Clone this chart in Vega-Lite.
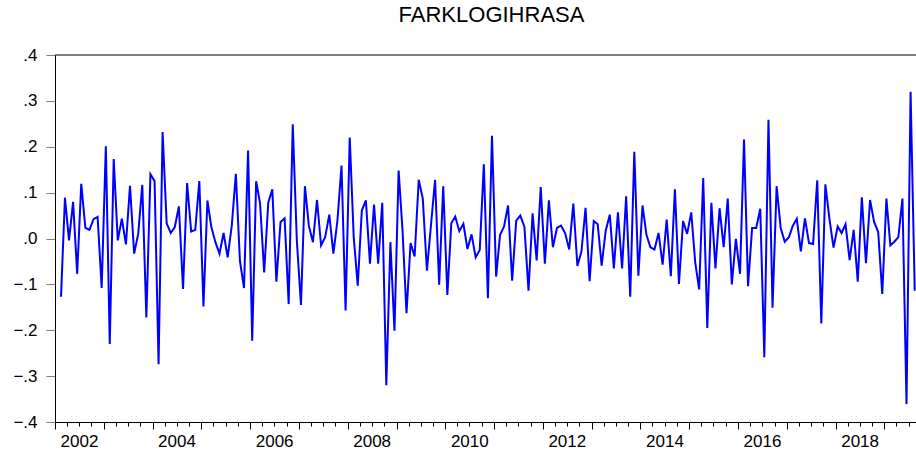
{
 "$schema": "https://vega.github.io/schema/vega-lite/v6.json",
 "width": 861,
 "height": 367,
 "autosize": {"type": "none"},
 "padding": {"left": 55, "top": 55, "right": 0, "bottom": 31},
 "background": "white",
 "config": {"view": {"stroke": null}, "font": "Liberation Sans"},
 "title": {"text": "FARKLOGIHRASA", "fontSize": 22, "fontWeight": "normal", "font": "Liberation Sans", "color": "black", "anchor": "middle", "baseline": "alphabetic", "offset": 2, "dx": 6},
 "layer": [
  {
   "data": {"values": [
{"d":"2002-02-01","v":-0.127},{"d":"2002-03-01","v":0.089},{"d":"2002-04-01","v":-0.004},{"d":"2002-05-01","v":0.080},{"d":"2002-06-01","v":-0.077},{"d":"2002-07-01","v":0.119},{"d":"2002-08-01","v":0.023},{"d":"2002-09-01","v":0.019},{"d":"2002-10-01","v":0.042},{"d":"2002-11-01","v":0.047},{"d":"2002-12-01","v":-0.108},
{"d":"2003-01-01","v":0.201},{"d":"2003-02-01","v":-0.230},{"d":"2003-03-01","v":0.173},{"d":"2003-04-01","v":-0.004},{"d":"2003-05-01","v":0.043},{"d":"2003-06-01","v":-0.013},{"d":"2003-07-01","v":0.115},{"d":"2003-08-01","v":-0.033},{"d":"2003-09-01","v":0.010},{"d":"2003-10-01","v":0.117},{"d":"2003-11-01","v":-0.172},{"d":"2003-12-01","v":0.140},
{"d":"2004-01-01","v":0.125},{"d":"2004-02-01","v":-0.274},{"d":"2004-03-01","v":0.232},{"d":"2004-04-01","v":0.033},{"d":"2004-05-01","v":0.012},{"d":"2004-06-01","v":0.025},{"d":"2004-07-01","v":0.070},{"d":"2004-08-01","v":-0.110},{"d":"2004-09-01","v":0.121},{"d":"2004-10-01","v":0.015},{"d":"2004-11-01","v":0.019},{"d":"2004-12-01","v":0.125},
{"d":"2005-01-01","v":-0.148},{"d":"2005-02-01","v":0.083},{"d":"2005-03-01","v":0.025},{"d":"2005-04-01","v":-0.008},{"d":"2005-05-01","v":-0.033},{"d":"2005-06-01","v":0.012},{"d":"2005-07-01","v":-0.041},{"d":"2005-08-01","v":0.028},{"d":"2005-09-01","v":0.141},{"d":"2005-10-01","v":-0.049},{"d":"2005-11-01","v":-0.108},{"d":"2005-12-01","v":0.192},
{"d":"2006-01-01","v":-0.223},{"d":"2006-02-01","v":0.125},{"d":"2006-03-01","v":0.076},{"d":"2006-04-01","v":-0.074},{"d":"2006-05-01","v":0.078},{"d":"2006-06-01","v":0.107},{"d":"2006-07-01","v":-0.094},{"d":"2006-08-01","v":0.036},{"d":"2006-09-01","v":0.044},{"d":"2006-10-01","v":-0.143},{"d":"2006-11-01","v":0.249},{"d":"2006-12-01","v":-0.004},
{"d":"2007-01-01","v":-0.145},{"d":"2007-02-01","v":0.114},{"d":"2007-03-01","v":0.028},{"d":"2007-04-01","v":-0.008},{"d":"2007-05-01","v":0.084},{"d":"2007-06-01","v":-0.015},{"d":"2007-07-01","v":0.003},{"d":"2007-08-01","v":0.052},{"d":"2007-09-01","v":-0.033},{"d":"2007-10-01","v":0.039},{"d":"2007-11-01","v":0.159},{"d":"2007-12-01","v":-0.157},
{"d":"2008-01-01","v":0.220},{"d":"2008-02-01","v":0.003},{"d":"2008-03-01","v":-0.103},{"d":"2008-04-01","v":0.061},{"d":"2008-05-01","v":0.083},{"d":"2008-06-01","v":-0.055},{"d":"2008-07-01","v":0.074},{"d":"2008-08-01","v":-0.055},{"d":"2008-09-01","v":0.078},{"d":"2008-10-01","v":-0.320},{"d":"2008-11-01","v":-0.008},{"d":"2008-12-01","v":-0.201},
{"d":"2009-01-01","v":0.148},{"d":"2009-02-01","v":0.017},{"d":"2009-03-01","v":-0.163},{"d":"2009-04-01","v":-0.010},{"d":"2009-05-01","v":-0.039},{"d":"2009-06-01","v":0.128},{"d":"2009-07-01","v":0.087},{"d":"2009-08-01","v":-0.070},{"d":"2009-09-01","v":0.030},{"d":"2009-10-01","v":0.128},{"d":"2009-11-01","v":-0.101},{"d":"2009-12-01","v":0.114},
{"d":"2010-01-01","v":-0.123},{"d":"2010-02-01","v":0.033},{"d":"2010-03-01","v":0.048},{"d":"2010-04-01","v":0.016},{"d":"2010-05-01","v":0.032},{"d":"2010-06-01","v":-0.023},{"d":"2010-07-01","v":0.009},{"d":"2010-08-01","v":-0.041},{"d":"2010-09-01","v":-0.025},{"d":"2010-10-01","v":0.162},{"d":"2010-11-01","v":-0.130},{"d":"2010-12-01","v":0.224},
{"d":"2011-01-01","v":-0.083},{"d":"2011-02-01","v":0.008},{"d":"2011-03-01","v":0.026},{"d":"2011-04-01","v":0.072},{"d":"2011-05-01","v":-0.092},{"d":"2011-06-01","v":0.039},{"d":"2011-07-01","v":0.050},{"d":"2011-08-01","v":0.025},{"d":"2011-09-01","v":-0.114},{"d":"2011-10-01","v":0.055},{"d":"2011-11-01","v":-0.048},{"d":"2011-12-01","v":0.112},
{"d":"2012-01-01","v":-0.055},{"d":"2012-02-01","v":0.083},{"d":"2012-03-01","v":-0.019},{"d":"2012-04-01","v":0.023},{"d":"2012-05-01","v":0.028},{"d":"2012-06-01","v":0.012},{"d":"2012-07-01","v":-0.024},{"d":"2012-08-01","v":0.076},{"d":"2012-09-01","v":-0.060},{"d":"2012-10-01","v":-0.028},{"d":"2012-11-01","v":0.067},{"d":"2012-12-01","v":-0.093},
{"d":"2013-01-01","v":0.038},{"d":"2013-02-01","v":0.031},{"d":"2013-03-01","v":-0.059},{"d":"2013-04-01","v":0.017},{"d":"2013-05-01","v":0.052},{"d":"2013-06-01","v":-0.065},{"d":"2013-07-01","v":0.057},{"d":"2013-08-01","v":-0.065},{"d":"2013-09-01","v":0.092},{"d":"2013-10-01","v":-0.127},{"d":"2013-11-01","v":0.189},{"d":"2013-12-01","v":-0.081},
{"d":"2014-01-01","v":0.072},{"d":"2014-02-01","v":0.008},{"d":"2014-03-01","v":-0.019},{"d":"2014-04-01","v":-0.024},{"d":"2014-05-01","v":0.012},{"d":"2014-06-01","v":-0.057},{"d":"2014-07-01","v":0.041},{"d":"2014-08-01","v":-0.082},{"d":"2014-09-01","v":0.107},{"d":"2014-10-01","v":-0.099},{"d":"2014-11-01","v":0.038},{"d":"2014-12-01","v":0.010},
{"d":"2015-01-01","v":0.057},{"d":"2015-02-01","v":-0.052},{"d":"2015-03-01","v":-0.111},{"d":"2015-04-01","v":0.132},{"d":"2015-05-01","v":-0.195},{"d":"2015-06-01","v":0.078},{"d":"2015-07-01","v":-0.065},{"d":"2015-08-01","v":0.066},{"d":"2015-09-01","v":-0.019},{"d":"2015-10-01","v":0.087},{"d":"2015-11-01","v":-0.100},{"d":"2015-12-01","v":-0.001},
{"d":"2016-01-01","v":-0.077},{"d":"2016-02-01","v":0.216},{"d":"2016-03-01","v":-0.104},{"d":"2016-04-01","v":0.023},{"d":"2016-05-01","v":0.023},{"d":"2016-06-01","v":0.065},{"d":"2016-07-01","v":-0.259},{"d":"2016-08-01","v":0.259},{"d":"2016-09-01","v":-0.151},{"d":"2016-10-01","v":0.114},{"d":"2016-11-01","v":0.023},{"d":"2016-12-01","v":-0.007},
{"d":"2017-01-01","v":0.003},{"d":"2017-02-01","v":0.028},{"d":"2017-03-01","v":0.043},{"d":"2017-04-01","v":-0.028},{"d":"2017-05-01","v":0.044},{"d":"2017-06-01","v":-0.010},{"d":"2017-07-01","v":-0.012},{"d":"2017-08-01","v":0.127},{"d":"2017-09-01","v":-0.185},{"d":"2017-10-01","v":0.118},{"d":"2017-11-01","v":0.043},{"d":"2017-12-01","v":-0.020},
{"d":"2018-01-01","v":0.026},{"d":"2018-02-01","v":0.012},{"d":"2018-03-01","v":0.031},{"d":"2018-04-01","v":-0.047},{"d":"2018-05-01","v":0.019},{"d":"2018-06-01","v":-0.094},{"d":"2018-07-01","v":0.090},{"d":"2018-08-01","v":-0.054},{"d":"2018-09-01","v":0.084},{"d":"2018-10-01","v":0.036},{"d":"2018-11-01","v":0.014},{"d":"2018-12-01","v":-0.121},
{"d":"2019-01-01","v":0.087},{"d":"2019-02-01","v":-0.015},{"d":"2019-03-01","v":-0.007},{"d":"2019-04-01","v":0.003},{"d":"2019-05-01","v":0.087},{"d":"2019-06-01","v":-0.361},{"d":"2019-07-01","v":0.320},{"d":"2019-08-01","v":-0.114}
   ]},
   "mark": {"type": "line", "color": "#0000ff", "strokeWidth": 2, "clip": true},
   "encoding": {
    "x": {
     "field": "d", "type": "temporal", "timeUnit": "utcyearmonth", "bandPosition": 0.5,
     "scale": {"domain": [{"year": 2002, "month": 1, "date": 1, "utc": true}, {"year": 2019, "month": 8, "date": 26, "utc": true}]},
     "axis": {
      "title": null, "grid": false, "domainColor": "black", "domainWidth": 1,
      "tickColor": "black",
      "tickCount": {"interval": "month", "step": 3},
      "tickSize": {"condition": {"test": "utcmonth(datum.value) == 0", "value": 7}, "value": 4},
      "labelExpr": "utcmonth(datum.value) == 0 && utcyear(datum.value) % 2 == 0 ? utcFormat(datum.value, '%Y') : ''",
      "labelOffset": 24, "labelPadding": 4, "labelFontSize": 17, "labelFont": "Liberation Sans", "labelColor": "black",
      "labelOverlap": false, "labelFlush": false, "labelBound": false
     }
    },
    "y": {
     "field": "v", "type": "quantitative",
     "scale": {"domain": [-0.4, 0.4], "nice": false, "zero": false},
     "axis": {
      "title": null, "grid": false,
      "values": [-0.4, -0.3, -0.2, -0.1, 0, 0.1, 0.2, 0.3, 0.4],
      "labelExpr": "replace(format(datum.value, '.1f'), '0.', '.')",
      "tickSize": 9, "tickColor": "#808080", "labelPadding": 9, "labelFontSize": 17, "labelFont": "Liberation Sans",
      "domainColor": "black", "labelColor": "black"
     }
    }
   }
  },
  {
   "data": {"values": [{}]},
   "mark": {"type": "rule", "color": "black", "strokeWidth": 1},
   "encoding": {"y": {"datum": 0.4}}
  }
 ]
}
